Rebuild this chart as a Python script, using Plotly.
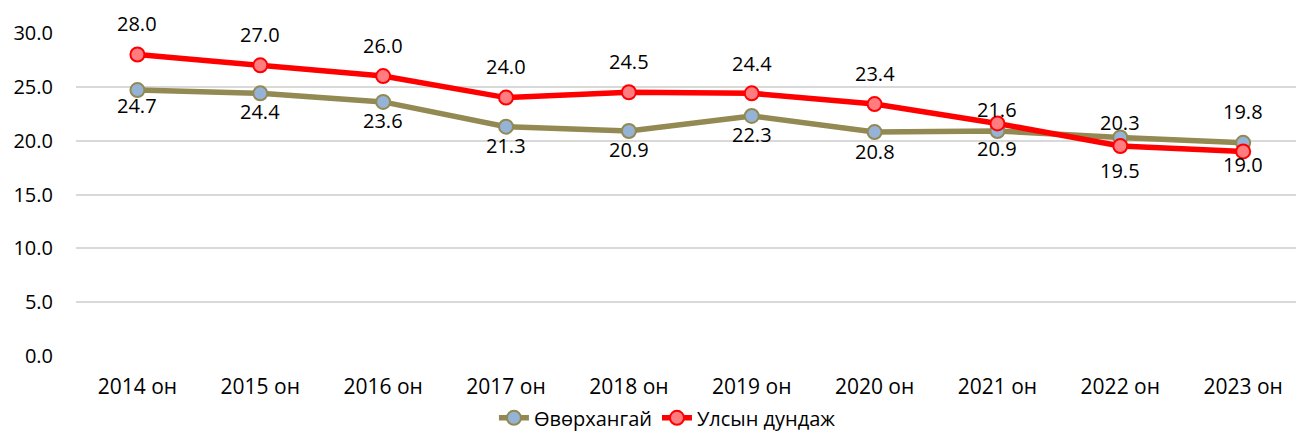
import plotly.graph_objects as go

categories = ["2014 он", "2015 он", "2016 он", "2017 он", "2018 он",
              "2019 он", "2020 он", "2021 он", "2022 он", "2023 он"]
ovorkhangai = [24.7, 24.4, 23.6, 21.3, 20.9, 22.3, 20.8, 20.9, 20.3, 19.8]
national = [28.0, 27.0, 26.0, 24.0, 24.5, 24.4, 23.4, 21.6, 19.5, 19.0]
y_ticks = [0, 5, 10, 15, 20, 25, 30]

# label placement (pixel shift of label centre from point; + is above)
ovor_label_shift = [-15, -18, -19, -19, -19, -19, -19, -18, 15, 31]
nat_label_shift = [31, 31, 31, 31, 31, 30, 31, 14, -24, -13]

FONT = "Open Sans"
FS = 20
xs = list(range(len(categories)))

fig = go.Figure()
fig.add_trace(go.Scatter(
    x=xs, y=ovorkhangai, name="Өвөрхангай", mode="lines+markers",
    line=dict(color="#938953", width=5.5),
    marker=dict(size=14, color="#95b3d7", line=dict(color="#938953", width=2)),
))
fig.add_trace(go.Scatter(
    x=xs, y=national, name="Улсын дундаж", mode="lines+markers",
    line=dict(color="#ff0000", width=5.5),
    marker=dict(size=14, color="#ff7c80", line=dict(color="#ff0000", width=2)),
))

annotations = []
for vals, shifts in ((ovorkhangai, ovor_label_shift), (national, nat_label_shift)):
    for x, v, s in zip(xs, vals, shifts):
        annotations.append(dict(
            x=x, y=v, xref="x", yref="y", text=f"{v:.1f}", showarrow=False,
            yshift=s, yanchor="middle",
            font=dict(family=FONT, size=FS, color="#000000"),
        ))

fig.update_layout(
    width=1296, height=433,
    margin=dict(l=76, r=0, t=33, b=77, autoexpand=False),
    paper_bgcolor="white", plot_bgcolor="white",
    font=dict(family=FONT, size=FS, color="#000000"),
    showlegend=True,
    legend=dict(orientation="h", xref="container", yref="container",
                x=0.515, xanchor="center", y=0.035, yanchor="middle",
                font=dict(family=FONT, size=FS, color="#000000"),
                bgcolor="rgba(0,0,0,0)"),
    annotations=annotations,
    xaxis=dict(range=[-0.5, 9.43], tickvals=xs, ticktext=categories,
               showgrid=False, zeroline=False, showline=False, ticks="",
               automargin=False, ticklabelstandoff=16,
               tickfont=dict(family=FONT, size=21, color="#000000")),
    yaxis=dict(range=[0, 30], tickvals=y_ticks,
               ticktext=[f"{t:.1f}" for t in y_ticks],
               showgrid=True, gridcolor="#d9d9d9", gridwidth=1.5,
               zeroline=False, showline=False, ticks="", automargin=False,
               ticklabelstandoff=22),
)

fig.write_html("out.html", config={"displayModeBar": False},
               post_script="document.body.style.margin='0';"
                           "document.body.style.overflow='hidden';")
